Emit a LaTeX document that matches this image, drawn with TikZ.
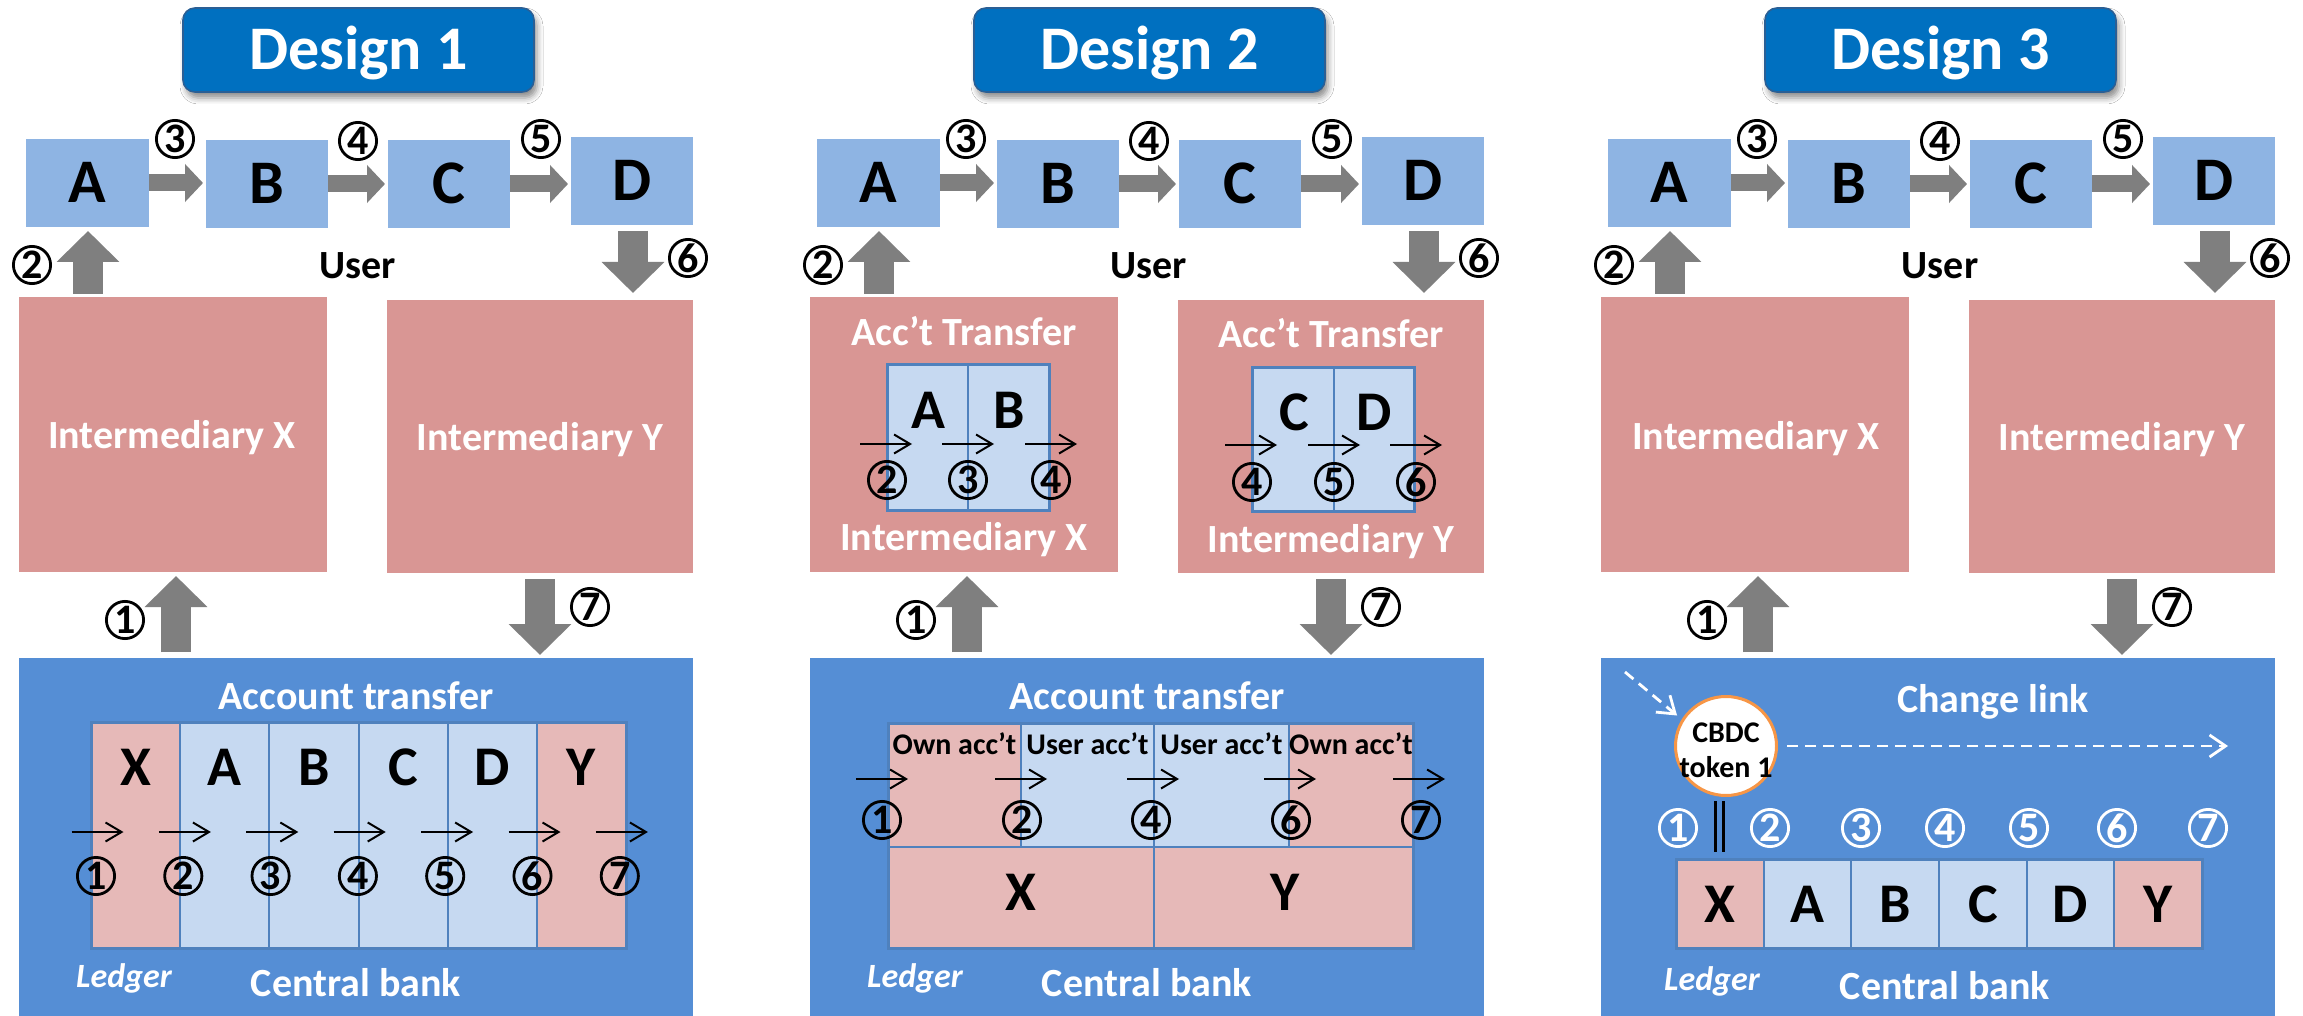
\documentclass[tikz,border=0pt]{standalone}
\usepackage{fontspec}
\setmainfont{Carlito}
\usetikzlibrary{arrows.meta,shapes.geometric,shadows.blur}

\definecolor{ttlblue}{HTML}{0070C0}
\definecolor{ttledge}{HTML}{2A5F95}
\definecolor{userblue}{HTML}{8EB4E3}
\definecolor{interpink}{HTML}{D99694}
\definecolor{cbblue}{HTML}{558ED5}
\definecolor{cellpink}{HTML}{E6B9B8}
\definecolor{cellblue}{HTML}{C6D9F1}
\definecolor{cellline}{HTML}{4F81BD}
\definecolor{arrowgray}{HTML}{7F7F7F}
\definecolor{tokenedge}{HTML}{F79646}

\newcommand\fsz[1]{\fontsize{#1}{#1}\selectfont\bfseries}
% rectangle node given by its corners: name, x1, y1, x2, y2, style, text
\newcommand\cornerbox[7]{%
  \node[plainbox,#6,minimum width={(#4-#2)*0.5pt},minimum height={(#5-#3)*0.5pt}]
    (#1) at ({(#2+#4)/2},{(#3+#5)/2}) {#7};}

\begin{document}
\begin{tikzpicture}[x=0.5pt,y=-0.5pt,
  plainbox/.style={rectangle,inner sep=0pt,outer sep=0pt},
  t31/.style={font=\fsz{31},inner sep=0pt,text height=19.5pt,text depth=0pt},
  t28/.style={font=\fsz{28},inner sep=0pt,text height=17.6pt,text depth=0pt},
  t20/.style={font=\fsz{20},inner sep=0pt,text height=12.6pt,text depth=0pt},
  t15/.style={font=\fsz{15},inner sep=0pt,text height=9.5pt,text depth=0pt},
  titlebox/.style={t31,text=white,fill=ttlblue,draw=ttledge,line width=0.8pt,
    rounded corners=6pt,
    blur shadow={shadow xshift=1.5pt,shadow yshift=-3pt,shadow blur radius=3pt,shadow opacity=45}},
  ubox/.style={t31,fill=userblue},
  ibox/.style={fill=interpink},
  cbox/.style={fill=cbblue},
  cell/.style={draw=cellline,line width=1pt},
  tableedge/.style={draw=cellline,line width=1.5pt},
  wlbl/.style={t20,text=white},
  ledger/.style={font=\fontsize{17}{17}\selectfont\bfseries\itshape,text=white,
    inner sep=0pt,text height=10.7pt,text depth=0pt},
  cnum/.style={circle,draw,line width=1.4pt,minimum size=18.6pt,inner sep=0pt,font=\fsz{21}},
  wnum/.style={cnum,draw=white,text=white},
  harrow/.style={draw=arrowgray,line width=8.5pt,-{Triangle[length=9pt,width=18.5pt]}},
  varrow/.style={draw=arrowgray,line width=15pt,-{Triangle[length=15.5pt,width=30.5pt]}},
  thinarrow/.style={draw=black,line width=1pt,-{Straight Barb[length=8pt,width=9.5pt]}},
  dasharrow/.style={draw=white,line width=1.4pt,dash pattern=on 5.5pt off 3.5pt,
    -{Straight Barb[length=8pt,width=11pt]}},
  token/.style={ellipse,draw=tokenedge,line width=1.5pt,fill=white,minimum width=50.5pt,
    minimum height=49.5pt,inner sep=0pt},
  tokentext/.style={inner sep=0pt,align=center,font=\fontsize{15}{17.5}\selectfont\bfseries},
]
\useasboundingbox (0,0) rectangle (2303,1016);
\fill[white] (0,0) rectangle (2303,1016);

% ---------- parts shared by the three designs ----------
\foreach \dn/\ox in {1/0,2/791,3/1582}{
  \begin{scope}[shift={(\ox,0)}]
    \cornerbox{T\dn}{183}{8}{534}{92}{titlebox}{Design \dn}
    \cornerbox{A\dn}{26}{139}{149}{227}{ubox}{A}
    \cornerbox{B\dn}{206}{140}{328}{228}{ubox}{B}
    \cornerbox{C\dn}{388}{140}{510}{228}{ubox}{C}
    \cornerbox{D\dn}{571}{137}{693}{225}{ubox}{D}
    \cornerbox{IX\dn}{19}{297}{327}{572}{ibox}{}
    \cornerbox{IY\dn}{387}{300}{693}{573}{ibox}{}
    \cornerbox{CB\dn}{19}{658}{693}{1016}{cbox}{}
    \node[t20] (U\dn) at (358,266) {User};
    \coordinate (xa\dn) at (88,0);
    \coordinate (xd\dn) at (633,0);
    \coordinate (xone\dn) at (176,0);
    \coordinate (xsev\dn) at (540,0);
    % user-to-user transfers
    \draw[harrow] (A\dn.east) -- ([xshift=-1.5pt]A\dn.east -| B\dn.west);
    \draw[harrow] (B\dn.east) -- ([xshift=-1.5pt]B\dn.east -| C\dn.west);
    \draw[harrow] (C\dn.east) -- ([xshift=-1.5pt]C\dn.east -| D\dn.west);
    % between users, intermediaries and central bank
    \draw[varrow] ([yshift=1.5pt]IX\dn.north -| xa\dn) -- ([yshift=-2pt]A\dn.south -| xa\dn);
    \draw[varrow] ([yshift=-3pt]D\dn.south -| xd\dn) -- ([yshift=3.5pt]IY\dn.north -| xd\dn);
    \draw[varrow] ([yshift=3pt]CB\dn.north -| xone\dn) -- ([yshift=-2pt]IX\dn.south -| xone\dn);
    \draw[varrow] ([yshift=-3pt]IY\dn.south -| xsev\dn) -- ([yshift=1.5pt]CB\dn.north -| xsev\dn);
    % step numbers
    \node[cnum] (sthree\dn) at (175,139) {3};
    \node[cnum] (sfour\dn) at (358,141) {4};
    \node[cnum] (sfive\dn) at (541,139) {5};
    \node[cnum] (stwo\dn) at (32,265) {2};
    \node[cnum] (ssix\dn) at (688,258) {6};
    \node[cnum] (sone\dn) at (125,620) {1};
    \node[cnum] (sseven\dn) at (590,607) {7};
  \end{scope}
}

% ---------- Design 1 ----------
\node[wlbl] (IXt1) at (172,436) {Intermediary X};
\node[wlbl] (IYt1) at (540,438) {Intermediary Y};
\node[wlbl] (AT1) at (356,697) {Account transfer};
\foreach \letr/\cc [count=\i] in {X/cellpink,A/cellblue,B/cellblue,C/cellblue,D/cellblue,Y/cellpink}{
  \pgfmathsetmacro\xa{91+(\i-1)*89.17}
  \pgfmathsetmacro\xb{\xa+89.17}
  \cornerbox{La\i}{\xa}{722}{\xb}{948}{cell,fill=\cc}{}
  \node[t28] (Lat\i) at ({(\xa+\xb)/2},768) {\letr};
}
\draw[tableedge] (La1.north west) rectangle (La6.south east);
\foreach \i in {0,...,6}
  \draw[thinarrow] ({71.5+87.4*\i},832) -- ({123.5+87.4*\i},832);
\foreach \i in {1,...,7}
  \node[cnum] (Lan\i) at ({96+87.3*(\i-1)},876) {\i};
\node[ledger] (LG1) at (124,977) {Ledger};
\node[wlbl] (CBt1) at (356,984) {Central bank};

% ---------- Design 2 ----------
\begin{scope}[shift={(791,0)}]
  \node[wlbl] (ATx2) at (173,333) {Acc’t Transfer};
  \node[wlbl] (IXt2) at (173,538) {Intermediary X};
  \node[wlbl] (ATy2) at (540,335) {Acc’t Transfer};
  \node[wlbl] (IYt2) at (540,540) {Intermediary Y};
  % accounts kept by the intermediaries
  \cornerbox{PA}{96}{364}{177}{510}{cell,fill=cellblue}{}
  \cornerbox{PB}{177}{364}{258}{510}{cell,fill=cellblue}{}
  \draw[tableedge] (PA.north west) rectangle (PB.south east);
  \node[t28] (PAt) at (137,411) {A};
  \node[t28] (PBt) at (218,411) {B};
  \cornerbox{PC}{461}{367}{543}{511}{cell,fill=cellblue}{}
  \cornerbox{PD}{543}{367}{623}{511}{cell,fill=cellblue}{}
  \draw[tableedge] (PC.north west) rectangle (PD.south east);
  \node[t28] (PCt) at (503,413) {C};
  \node[t28] (PDt) at (583,413) {D};
  \foreach \sx in {69,151,234} \draw[thinarrow] (\sx,444) -- ++(52,0);
  \foreach \sx in {434,517,599} \draw[thinarrow] (\sx,445) -- ++(52,0);
  \foreach \xx/\n in {96/2,177/3,260/4} \node[cnum] (px\n) at (\xx,480) {\n};
  \foreach \xx/\n in {461/4,543/5,625/6} \node[cnum] (py\n) at (\xx,482) {\n};
  % central bank ledger
  \node[wlbl] (AT2) at (356,697) {Account transfer};
  \foreach \xa/\xb/\cc/\txt [count=\i] in {97/230/cellpink/Own acc’t,230/363/cellblue/User acc’t,363/498/cellblue/User acc’t,498/622/cellpink/Own acc’t}{
    \cornerbox{Q\i}{\xa}{723}{\xb}{847}{cell,fill=\cc}{}
    \node[t15] (Qt\i) at ({(\xa+\xb)/2},745) {\txt};
  }
  \cornerbox{QX}{97}{847}{363}{948}{cell,fill=cellpink}{}
  \cornerbox{QY}{363}{847}{622}{948}{cell,fill=cellpink}{}
  \draw[tableedge] (Q1.north west) rectangle (QY.south east);
  \node[t28] (QXt) at (230,893) {X};
  \node[t28] (QYt) at (494,893) {Y};
  \foreach \sx in {65,204,336,473,602} \draw[thinarrow] (\sx,779) -- ++(52,0);
  \foreach \xx/\n in {91/1,231/2,360/4,500/6,630/7} \node[cnum] (q\n) at (\xx,820) {\n};
  \node[ledger] (LG2) at (124,977) {Ledger};
  \node[wlbl] (CBt2) at (356,984) {Central bank};
\end{scope}

% ---------- Design 3 ----------
\begin{scope}[shift={(1582,0)}]
  \node[wlbl] (IXt3) at (174,437) {Intermediary X};
  \node[wlbl] (IYt3) at (540,438) {Intermediary Y};
  \node[token] (tok) at (144,746) {};
  \node[tokentext] (toktxt) at (144,750) {CBDC\\token 1};
  \coordinate (ds) at (43,672);
  \draw[dasharrow,shorten >=3pt] (ds) -- (tok.149);
  \node[wlbl] (CL) at (411,700) {Change link};
  \coordinate (le) at (646,746);
  \draw[dasharrow] ([xshift=4.5pt]tok.east) -- (le);
  \foreach \letr/\cc [count=\i] in {X/cellpink,A/cellblue,B/cellblue,C/cellblue,D/cellblue,Y/cellpink}{
    \pgfmathsetmacro\xa{94+(\i-1)*87.67}
    \pgfmathsetmacro\xb{\xa+87.67}
    \cornerbox{Lc\i}{\xa}{859}{\xb}{948}{cell,fill=\cc}{}
    \node[t28] (Lct\i) at ({(\xa+\xb)/2},905) {\letr};
  }
  \draw[tableedge] (Lc1.north west) rectangle (Lc6.south east);
  \draw[double=cbblue,double distance=2.5pt,line width=1.5pt]
    ([yshift=-2pt]tok.south -| Lc1.north) -- ([yshift=3.5pt]Lc1.north);
  \foreach \xx/\n in {96/1,188/2,279/3,363/4,447/5,535/6,626/7}
    \node[wnum] (w\n) at (\xx,828) {\n};
  \node[ledger] (LG3) at (130,980) {Ledger};
  \node[wlbl] (CBt3) at (363,987) {Central bank};
\end{scope}
\end{tikzpicture}
\end{document}
